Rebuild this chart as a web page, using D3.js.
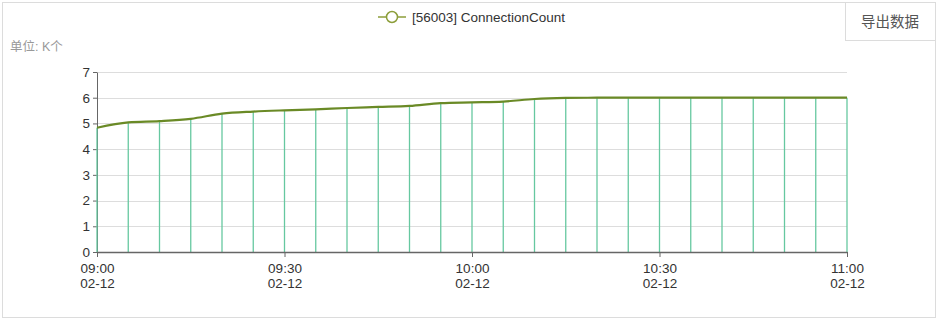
<!DOCTYPE html>
<html>
<head>
<meta charset="utf-8">
<script src="https://cdn.jsdelivr.net/npm/d3@7"></script>
<style>
body { margin: 0; background: #fff; }
svg { display: block; font-family: "Liberation Sans", Arial, "Noto Sans CJK SC", sans-serif; }
</style>
</head>
<body>
<div id="chart"></div>
<script>
// 5 minute samples, 09:00 -> 11:00 on 02-12
var times = ["09:00","09:05","09:10","09:15","09:20","09:25","09:30","09:35","09:40","09:45",
             "09:50","09:55","10:00","10:05","10:10","10:15","10:20","10:25","10:30","10:35",
             "10:40","10:45","10:50","10:55","11:00"]
var connCount = [4.83,5.04,5.09,5.18,5.38,5.46,5.51,5.55,5.60,5.64,
                 5.68,5.79,5.82,5.85,5.95,5.99,6.0,6.0,6.0,6.0,
                 6.0,6.0,6.0,6.0,6.0]
var yTicks = [0,1,2,3,4,5,6,7]
var xTickLabels = ["09:00","09:30","10:00","10:30","11:00"]
var dayLabel = "02-12"
var seriesName = "[56003] ConnectionCount"

var width = 940, height = 323
var margin = {left: 97, right: 93, top: 72, bottom: 71}

var parse = d3.timeParse("%H:%M")
var data = times.map(function(t, i){ return {t: parse(t), v: connCount[i]} })

var svg = d3.select("#chart").append("svg")
    .attr("width", width)
    .attr("height", height)

// outer frame
svg.append("rect")
   .attr("x", 2.5).attr("y", 2.5)
   .attr("width", 933).attr("height", 315)
   .attr("fill", "none")
   .attr("stroke", "#dcdcdc")

var x = d3.scaleTime()
    .domain([parse("09:00"), parse("11:00")])
    .range([margin.left, width - margin.right])
var y = d3.scaleLinear()
    .domain([0, 7])
    .range([height - margin.bottom, margin.top])

// horizontal grid
svg.append("g").selectAll("line")
   .data(yTicks)
   .join("line")
   .attr("x1", x.range()[0]).attr("x2", x.range()[1])
   .attr("y1", d => Math.round(y(d)) + 0.5).attr("y2", d => Math.round(y(d)) + 0.5)
   .attr("stroke", "#dddddd")

// y axis
var yAxis = svg.append("g")
    .attr("transform", "translate(" + x.range()[0] + ",0)")
    .call(d3.axisLeft(y).tickValues(yTicks).tickFormat(d3.format("d")).tickSize(4).tickSizeOuter(0))
yAxis.select(".domain").attr("stroke", "#666")
yAxis.selectAll(".tick line").attr("stroke", "#666")
yAxis.selectAll("text").attr("fill", "#333").style("font-size", "13.5px")

// drop lines from each sample
svg.append("g").selectAll("line")
   .data(data)
   .join("line")
   .attr("x1", d => x(d.t)).attr("x2", d => x(d.t))
   .attr("y1", d => y(d.v)).attr("y2", y(0))
   .attr("stroke", "#66c8a0")
   .attr("stroke-width", 1.3)

// x axis
var xAxis = svg.append("g")
    .attr("transform", "translate(0," + y(0) + ")")
    .call(d3.axisBottom(x)
        .tickValues(xTickLabels.map(parse))
        .tickSize(5).tickSizeOuter(0)
        .tickFormat(""))
xAxis.select(".domain").attr("stroke", "#666").attr("stroke-width", 1.5)
xAxis.selectAll(".tick line").attr("stroke", "#666")
xAxis.selectAll(".tick").each(function(d, i){
    var t = d3.select(this).append("text")
        .attr("fill", "#333")
        .attr("text-anchor", "middle")
        .style("font-size", "13.5px")
    t.append("tspan").attr("x", 0).attr("y", 21).text(xTickLabels[i])
    t.append("tspan").attr("x", 0).attr("y", 36).text(dayLabel)
})

// the series line
var line = d3.line()
    .x(d => x(d.t))
    .y(d => y(d.v))
    .curve(d3.curveMonotoneX)
svg.append("path")
   .datum(data)
   .attr("d", line)
   .attr("fill", "none")
   .attr("stroke", "#6a8a26")
   .attr("stroke-width", 2.2)

// unit label
svg.append("text")
   .attr("x", 10).attr("y", 51)
   .attr("fill", "#999")
   .style("font-size", "12.5px")
   .text("单位: K个")

// legend
var legend = svg.append("g").attr("transform", "translate(378,17)")
legend.append("line")
      .attr("x1", 0).attr("x2", 28)
      .attr("stroke", "#8c9e3a").attr("stroke-width", 1.5)
legend.append("circle")
      .attr("cx", 14).attr("r", 5.5)
      .attr("fill", "#fff")
      .attr("stroke", "#8c9e3a").attr("stroke-width", 1.5)
legend.append("text")
      .attr("x", 34).attr("y", 4.5)
      .attr("fill", "#333")
      .style("font-size", "13.5px")
      .text(seriesName)

// export button
var btn = svg.append("g")
btn.append("rect")
   .attr("x", 845.5).attr("y", 2.5)
   .attr("width", 90).attr("height", 38)
   .attr("fill", "#fff")
   .attr("stroke", "#dcdcdc")
btn.append("text")
   .attr("x", 890).attr("y", 27)
   .attr("text-anchor", "middle")
   .attr("fill", "#555")
   .style("font-size", "14.5px")
   .style("font-family", "'Noto Sans CJK SC', sans-serif")
   .text("导出数据")
</script>
</body>
</html>
